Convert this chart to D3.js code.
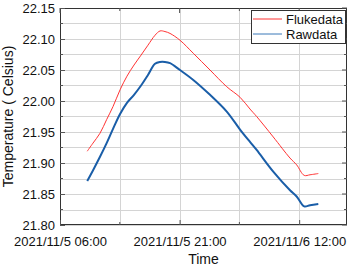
<!DOCTYPE html>
<html><head><meta charset="utf-8">
<script src="https://cdn.jsdelivr.net/npm/d3@7"></script>
<style>body{margin:0;background:#fff}svg{display:block;font-family:"Liberation Sans",Arial,sans-serif}</style>
</head><body><svg id="c" width="353" height="267"></svg>
<script>
const times = ["2021-11-05 09:25","2021-11-05 10:08","2021-11-05 11:01","2021-11-05 11:51","2021-11-05 12:39","2021-11-05 13:32","2021-11-05 14:24","2021-11-05 15:17","2021-11-05 16:10","2021-11-05 17:02","2021-11-05 17:55","2021-11-05 18:33","2021-11-05 19:10","2021-11-05 19:48","2021-11-05 21:03","2021-11-05 22:43","2021-11-06 00:49","2021-11-06 02:55","2021-11-06 04:35","2021-11-06 05:50","2021-11-06 06:40","2021-11-06 08:45","2021-11-06 10:51","2021-11-06 11:41","2021-11-06 12:38","2021-11-06 13:22","2021-11-06 14:24"];
const flukedata = [21.919,21.932,21.948,21.970,21.991,22.018,22.040,22.058,22.074,22.090,22.106,22.113,22.112,22.109,22.098,22.077,22.050,22.023,22.006,21.987,21.975,21.942,21.908,21.897,21.880,21.881,21.883];
const rawdata = [21.871,21.888,21.910,21.932,21.955,21.979,21.997,22.010,22.025,22.042,22.060,22.063,22.063,22.061,22.050,22.034,22.010,21.983,21.954,21.934,21.921,21.886,21.856,21.846,21.830,21.832,21.834];
const yTicks = [21.80,21.85,21.90,21.95,22.00,22.05,22.10,22.15];
const xTickLabels = ["2021/11/5 06:00","2021/11/5 21:00","2021/11/6 12:00"];
const xDomain = ["2021-11-05 06:00","2021-11-06 18:00"];
const seriesNames = ["Flukedata","Rawdata"];

const parse = d3.timeParse("%Y-%m-%d %H:%M");
const parseLbl = d3.timeParse("%Y/%m/%d %H:%M");
const svg = d3.select("#c");
const L=60,R=347,T=8,B=225;
const x = d3.scaleTime().domain(xDomain.map(parse)).range([L,R]);
const y = d3.scaleLinear().domain([21.80,22.15]).range([B,T]);

const yGrid = d3.range(0,15).map(i=>21.80+i*0.025);
const xGridT = [0,7.5,15,22.5,30].map(h=>new Date(parse(xDomain[0]).getTime()+h*3600e3));
const g = svg.append("g");
g.selectAll(".gy").data(yGrid).join("line").attr("x1",L).attr("x2",R).attr("y1",d=>Math.round(y(d))+0.5).attr("y2",d=>Math.round(y(d))+0.5).attr("stroke","#d4d4d4").attr("stroke-width",1);
g.selectAll(".gx").data(xGridT).join("line").attr("y1",T).attr("y2",B).attr("x1",d=>Math.round(x(d))+0.5).attr("x2",d=>Math.round(x(d))+0.5).attr("stroke","#d4d4d4").attr("stroke-width",1);

const pts = s => s.map((v,i)=>[parse(times[i]),v]);
const line = d3.line().x(d=>x(d[0])).y(d=>y(d[1])).curve(d3.curveCatmullRom.alpha(0.5));
svg.append("path").attr("d",line(pts(flukedata))).attr("fill","none").attr("stroke","#ff3333").attr("stroke-width",1);
svg.append("path").attr("d",line(pts(rawdata))).attr("fill","none").attr("stroke","#1a5ea8").attr("stroke-width",2);

svg.append("rect").attr("x",L+0.5).attr("y",T+0.5).attr("width",R-L-1).attr("height",B-T-1).attr("fill","none").attr("stroke","#333").attr("stroke-width",1);

const xTicks = xTickLabels.map(parseLbl);
const ax = d3.axisBottom(x).tickValues(xTicks).tickSize(-5).tickFormat(d3.timeFormat("%Y/%-m/%-d %H:%M"));
const axG = svg.append("g").attr("transform",`translate(0,${B})`).call(ax);
axG.select(".domain").remove();
axG.selectAll("line").attr("stroke","#555");
axG.selectAll("text").attr("font-size",13).attr("fill","#111").attr("dy","1.35em");
const ay = d3.axisLeft(y).tickValues(yTicks).tickSize(-5).tickFormat(d3.format(".2f"));
const ayG = svg.append("g").attr("transform",`translate(${L},0)`).call(ay);
ayG.select(".domain").remove();
ayG.selectAll("line").attr("stroke","#555");
ayG.selectAll("text").attr("font-size",13).attr("fill","#111").attr("x",-5);
svg.append("g").selectAll("line").data(yGrid.filter((d,i)=>i%2)).join("line").attr("x1",L).attr("x2",L+3).attr("y1",d=>y(d)).attr("y2",d=>y(d)).attr("stroke","#555");
svg.append("g").selectAll("line").data(yGrid.filter((d,i)=>i%2)).join("line").attr("x1",R-3).attr("x2",R).attr("y1",d=>y(d)).attr("y2",d=>y(d)).attr("stroke","#555");
svg.append("g").selectAll("line").data(yTicks).join("line").attr("x1",R-5).attr("x2",R).attr("y1",d=>y(d)).attr("y2",d=>y(d)).attr("stroke","#555");
svg.append("g").selectAll("line").data(xGridT).join("line").attr("x1",d=>x(d)).attr("x2",d=>x(d)).attr("y1",T).attr("y2",(d,i)=>T+(i%2?3:5)).attr("stroke","#555");
svg.append("g").selectAll("line").data(xGridT.filter((d,i)=>i%2)).join("line").attr("x1",d=>x(d)).attr("x2",d=>x(d)).attr("y1",B-3).attr("y2",B).attr("stroke","#555");

svg.append("text").attr("x",(L+R)/2).attr("y",264).attr("text-anchor","middle").attr("font-size",14).attr("fill","#111").text("Time");
svg.append("text").attr("transform",`translate(13,${(T+B)/2}) rotate(-90)`).attr("text-anchor","middle").attr("font-size",14).attr("fill","#111").text("Temperature ( Celsius)");

const lg = svg.append("g");
lg.append("rect").attr("x",251.5).attr("y",10.5).attr("width",94).attr("height",33).attr("fill","#fff").attr("stroke","#333");
const lc = ["#ff3333","#3a78b8"];
seriesNames.forEach((n,i)=>{
  const yy = 19 + i*15;
  lg.append("line").attr("x1",253).attr("x2",282).attr("y1",yy).attr("y2",yy).attr("stroke",lc[i]).attr("stroke-width",1);
  lg.append("text").attr("x",286).attr("y",yy+4.5).attr("font-size",13).attr("fill","#111").text(n);
});
</script></body></html>
